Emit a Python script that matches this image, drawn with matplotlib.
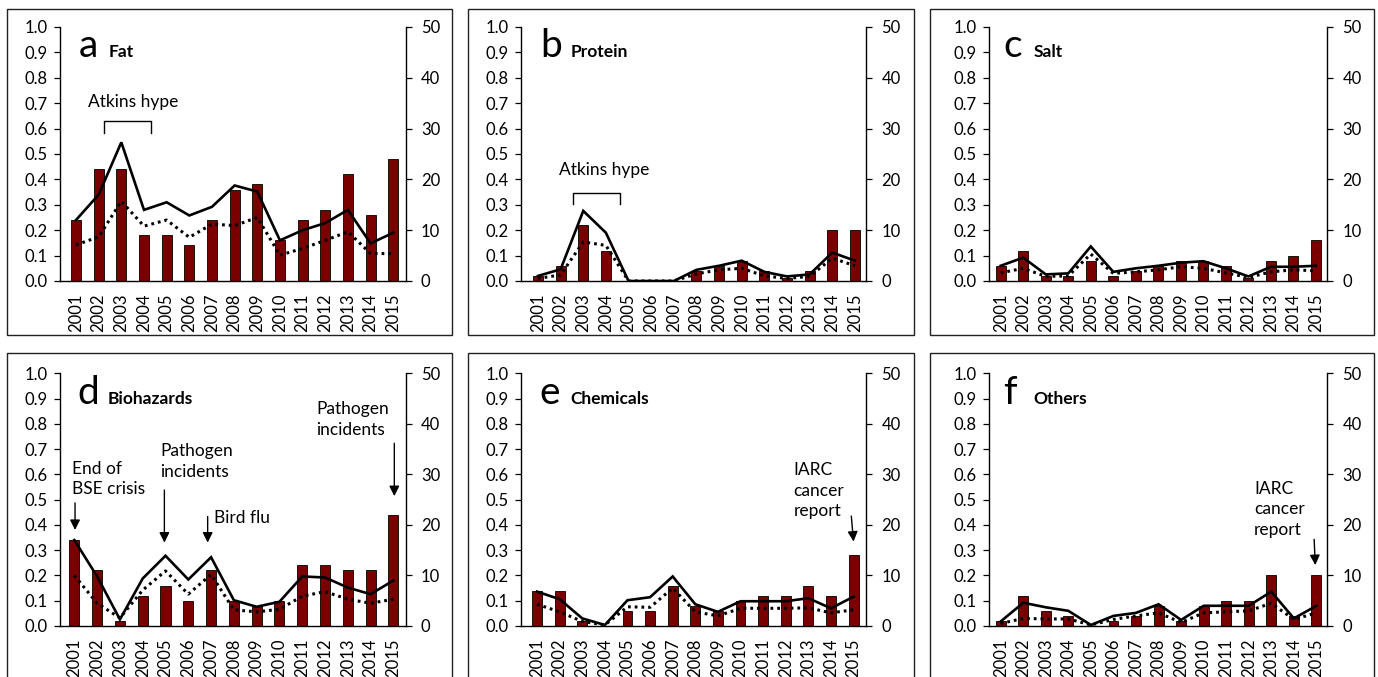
import matplotlib
matplotlib.use('Agg')
import matplotlib.pyplot as plt
from matplotlib.patches import Rectangle

plt.rcParams['font.family'] = ['Lato', 'DejaVu Sans']

years = [str(y) for y in range(2001, 2016)]
panel_letters = ['a', 'b', 'c', 'd', 'e', 'f']
panel_titles = ['Fat', 'Protein', 'Salt', 'Biohazards', 'Chemicals', 'Others']

# bars: left axis (0-1); lines: right axis (0-50)
fat_bars = [0.24, 0.44, 0.44, 0.18, 0.18, 0.14, 0.24, 0.36, 0.38, 0.16, 0.24, 0.28, 0.42, 0.26, 0.48]
fat_solid = [12, 17, 27.3, 14, 15.5, 12.9, 14.6, 18.8, 17.6, 8, 10, 11.4, 14, 7.4, 9.5]
fat_dotted = [7.1, 8.7, 15.7, 10.8, 12, 8.6, 11.2, 10.9, 12.5, 5.1, 6.4, 8, 9.7, 5.4, 5.4]

protein_bars = [0.02, 0.06, 0.22, 0.12, 0, 0, 0, 0.04, 0.06, 0.08, 0.04, 0.01, 0.04, 0.2, 0.2]
protein_solid = [1, 2.3, 13.8, 9.5, 0, 0, 0, 2.2, 3, 4, 1.8, 0.9, 1.3, 5.6, 4]
protein_dotted = [0.5, 1.2, 7.7, 7, 0, 0, 0, 1.4, 2.2, 2.5, 1, 0.5, 0.9, 4.5, 3]

salt_bars = [0.06, 0.12, 0.02, 0.02, 0.08, 0.02, 0.04, 0.06, 0.08, 0.08, 0.06, 0.01, 0.08, 0.1, 0.16]
salt_solid = [3, 4.6, 1.3, 1.5, 6.8, 1.8, 2.5, 3, 3.6, 3.9, 2.5, 0.9, 2.8, 2.8, 3]
salt_dotted = [1.6, 2.5, 0.9, 1, 5.3, 1.5, 1.8, 2.2, 2.8, 2.5, 1.6, 0.7, 1.8, 2.2, 2]

bio_bars = [0.34, 0.22, 0.02, 0.12, 0.16, 0.1, 0.22, 0.1, 0.08, 0.1, 0.24, 0.24, 0.22, 0.22, 0.44]
bio_solid = [17, 9.8, 1.3, 9.4, 13.9, 9.2, 13.6, 5.1, 3.8, 4.8, 9.8, 9.6, 7.6, 6.3, 9]
bio_dotted = [10, 4.5, 1.6, 7.1, 10.9, 6.3, 10.2, 3.2, 2.8, 3.3, 5.9, 6.8, 5.3, 4.5, 5.3]

chem_bars = [0.14, 0.14, 0.02, 0, 0.06, 0.06, 0.16, 0.08, 0.06, 0.1, 0.12, 0.12, 0.16, 0.12, 0.28]
chem_solid = [6.8, 5.3, 1.5, 0.2, 5.1, 5.7, 9.8, 4.3, 2.8, 4.9, 4.9, 4.9, 5.5, 3.5, 5.8]
chem_dotted = [4.3, 2.8, 0.9, 0.2, 3.8, 3.7, 7.5, 2.8, 2, 3.5, 3.5, 3.5, 3.6, 2.6, 3.2]

other_bars = [0.02, 0.12, 0.06, 0.04, 0, 0.02, 0.04, 0.08, 0.02, 0.08, 0.1, 0.1, 0.2, 0.04, 0.2]
other_solid = [0.9, 4.6, 3.7, 3, 0.2, 2, 2.6, 4.3, 1.2, 4, 4, 4, 6.8, 1.5, 4]
other_dotted = [0.5, 1.5, 1.4, 1.4, 0.2, 1.3, 2, 2.6, 0.7, 2.6, 2.8, 3, 4.5, 1.3, 2.6]

bars_all = [fat_bars, protein_bars, salt_bars, bio_bars, chem_bars, other_bars]
solid_all = [fat_solid, protein_solid, salt_solid, bio_solid, chem_solid, other_solid]
dotted_all = [fat_dotted, protein_dotted, salt_dotted, bio_dotted, chem_dotted, other_dotted]

W, H = 1378, 677
fig = plt.figure(figsize=(W / 100, H / 100), dpi=100)

# layout in pixels
cols = [(60, 405.7), (521, 866), (989, 1327)]
rows = [(27, 281), (373.3, 626)]
xlims = [(-0.706, 14.55), (-0.75, 14.49), (-0.52, 14.49),
         (-0.63, 14.54), (-0.71, 14.55), (-0.52, 14.47)]
frames_x = [(7, 452), (468, 914), (930, 1374)]
frames_y = [(9, 335), (353, 700)]

tick_fs = 12
ann_fs = 12.5
bar_color = '#7a0000'
x = list(range(len(years)))
axes = []
for i in range(6):
    r, c = divmod(i, 3)
    L, R = cols[c]
    T, B = rows[r]
    fx0, fx1 = frames_x[c]
    fy0, fy1 = frames_y[r]
    fig.patches.append(Rectangle((fx0 / W, 1 - fy1 / H), (fx1 - fx0) / W, (fy1 - fy0) / H,
                                 transform=fig.transFigure, fill=False,
                                 edgecolor='#222222', lw=1.0, zorder=0))
    ax = fig.add_axes([L / W, 1 - B / H, (R - L) / W, (B - T) / H])
    ax.bar(x, bars_all[i], width=0.44, color=bar_color, edgecolor='black', linewidth=0.6)
    ax.set_xlim(*xlims[i])
    ax.set_ylim(0, 1.0)
    ax.set_yticks([k / 10 for k in range(11)])
    ax.set_yticklabels(['%.1f' % (k / 10) for k in range(11)])
    ax.set_xticks(x)
    ax.set_xticklabels(years, rotation=90)
    ax.tick_params(axis='x', length=0, pad=9, labelsize=tick_fs)
    ax.tick_params(axis='y', direction='out', length=4, width=0.9, pad=5, labelsize=tick_fs)
    for s in ['top', 'right']:
        ax.spines[s].set_visible(False)
    ax.spines['left'].set_linewidth(1.0)
    ax.spines['bottom'].set_linewidth(1.0)
    ax.patch.set_alpha(0)

    ax2 = ax.twinx()
    ax2.plot(x, solid_all[i], color='black', lw=1.9, solid_joinstyle='miter')
    ax2.plot(x, dotted_all[i], color='black', lw=2.2, linestyle=(0, (0.9, 1.3)))
    ax2.set_ylim(0, 50)
    ax2.set_yticks(range(0, 51, 10))
    ax2.tick_params(axis='y', direction='out', length=4, width=0.9, pad=7, labelsize=tick_fs)
    for s in ['top', 'left', 'bottom']:
        ax2.spines[s].set_visible(False)
    ax2.spines['right'].set_linewidth(1.0)

    ax.text(0.12, 0.88, panel_letters[i], fontsize=28, va='baseline', ha='left')
    ax.text(1.46, 0.88, panel_titles[i], fontsize=12.5, fontweight='bold', va='baseline', ha='left')
    axes.append(ax)

arrow_kw = dict(arrowstyle='-|>', color='black', lw=1.0, mutation_scale=15, shrinkA=0, shrinkB=0)

# a: Atkins hype
ax = axes[0]
ax.text(2.52, 0.685, 'Atkins hype', fontsize=ann_fs, ha='center', va='baseline')
ax.plot([1.24, 1.24, 3.31, 3.31], [0.583, 0.63, 0.63, 0.583], color='black', lw=1.0)

# b: Atkins hype
ax = axes[1]
ax.text(2.94, 0.417, 'Atkins hype', fontsize=ann_fs, ha='center', va='baseline')
ax.plot([1.55, 1.55, 3.62, 3.62], [0.303, 0.348, 0.348, 0.303], color='black', lw=1.0)

# d: Biohazards annotations
ax = axes[3]
ax.text(-0.10, 0.522, 'End of\nBSE crisis', fontsize=ann_fs, ha='left', va='baseline', linespacing=1.35)
ax.annotate('', xy=(0.03, 0.38), xytext=(0.03, 0.487), arrowprops=arrow_kw)
ax.text(3.76, 0.59, 'Pathogen\nincidents', fontsize=ann_fs, ha='left', va='baseline', linespacing=1.35)
ax.annotate('', xy=(3.95, 0.33), xytext=(3.95, 0.538), arrowprops=arrow_kw)
ax.text(6.13, 0.409, 'Bird flu', fontsize=ann_fs, ha='left', va='baseline')
ax.annotate('', xy=(5.85, 0.33), xytext=(5.85, 0.433), arrowprops=arrow_kw)
ax.text(10.6, 0.756, 'Pathogen\nincidents', fontsize=ann_fs, ha='left', va='baseline', linespacing=1.35)
ax.annotate('', xy=(14.04, 0.514), xytext=(14.04, 0.723), arrowprops=arrow_kw)

# e: Chemicals
ax = axes[4]
ax.text(11.34, 0.435, 'IARC\ncancer\nreport', fontsize=ann_fs, ha='left', va='baseline', linespacing=1.35)
ax.annotate('', xy=(14.0, 0.334), xytext=(13.9, 0.435), arrowprops=arrow_kw)

# f: Others
ax = axes[5]
ax.text(11.24, 0.36, 'IARC\ncancer\nreport', fontsize=ann_fs, ha='left', va='baseline', linespacing=1.35)
ax.annotate('', xy=(13.95, 0.241), xytext=(13.9, 0.343), arrowprops=arrow_kw)

fig.savefig('out.png', dpi=100)
